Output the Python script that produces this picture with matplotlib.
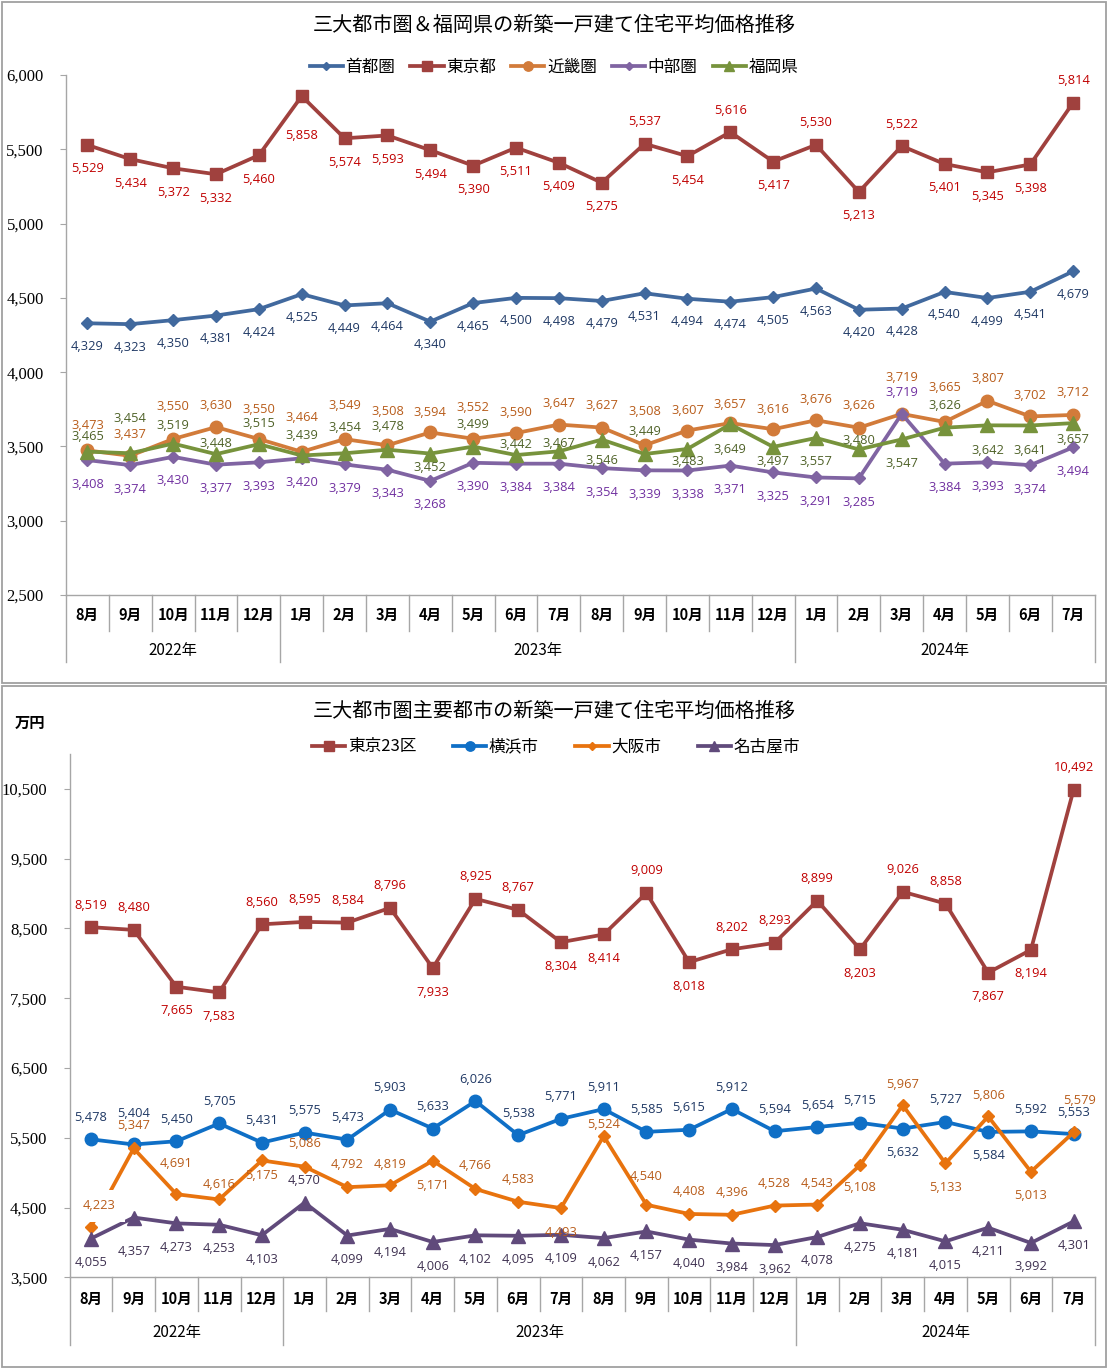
import matplotlib
matplotlib.use('Agg')
import matplotlib.pyplot as plt
from matplotlib.lines import Line2D
from matplotlib.patches import Rectangle
import matplotlib.transforms as mtransforms

# ---------------- data ----------------
months = ['8月', '9月', '10月', '11月', '12月',
          '1月', '2月', '3月', '4月', '5月', '6月', '7月', '8月', '9月', '10月', '11月', '12月',
          '1月', '2月', '3月', '4月', '5月', '6月', '7月']
years = ['2022年', '2023年', '2024年']
year_counts = [5, 12, 7]

top_title = '三大都市圏＆福岡県の新築一戸建て住宅平均価格推移'
top_names = ['首都圏', '東京都', '近畿圏', '中部圏', '福岡県']
shutoken = [4329, 4323, 4350, 4381, 4424, 4525, 4449, 4464, 4340, 4465, 4500, 4498,
            4479, 4531, 4494, 4474, 4505, 4563, 4420, 4428, 4540, 4499, 4541, 4679]
tokyo_to = [5529, 5434, 5372, 5332, 5460, 5858, 5574, 5593, 5494, 5390, 5511, 5409,
            5275, 5537, 5454, 5616, 5417, 5530, 5213, 5522, 5401, 5345, 5398, 5814]
kinki = [3473, 3437, 3550, 3630, 3550, 3464, 3549, 3508, 3594, 3552, 3590, 3647,
         3627, 3508, 3607, 3657, 3616, 3676, 3626, 3719, 3665, 3807, 3702, 3712]
chubu = [3408, 3374, 3430, 3377, 3393, 3420, 3379, 3343, 3268, 3390, 3384, 3384,
         3354, 3339, 3338, 3371, 3325, 3291, 3285, 3719, 3384, 3393, 3374, 3494]
fukuoka = [3465, 3454, 3519, 3448, 3515, 3439, 3454, 3478, 3452, 3499, 3442, 3467,
           3546, 3449, 3483, 3649, 3497, 3557, 3480, 3547, 3626, 3642, 3641, 3657]
top_yticks = [2500, 3000, 3500, 4000, 4500, 5000, 5500, 6000]

bot_title = '三大都市圏主要都市の新築一戸建て住宅平均価格推移'
bot_names = ['東京23区', '横浜市', '大阪市', '名古屋市']
tokyo23 = [8519, 8480, 7665, 7583, 8560, 8595, 8584, 8796, 7933, 8925, 8767, 8304,
           8414, 9009, 8018, 8202, 8293, 8899, 8203, 9026, 8858, 7867, 8194, 10492]
yokohama = [5478, 5404, 5450, 5705, 5431, 5575, 5473, 5903, 5633, 6026, 5538, 5771,
            5911, 5585, 5615, 5912, 5594, 5654, 5715, 5632, 5727, 5584, 5592, 5553]
osaka = [4223, 5347, 4691, 4616, 5175, 5086, 4792, 4819, 5171, 4766, 4583, 4493,
         5524, 4540, 4408, 4396, 4528, 4543, 5108, 5967, 5133, 5806, 5013, 5579]
nagoya = [4055, 4357, 4273, 4253, 4103, 4570, 4099, 4194, 4006, 4102, 4095, 4109,
          4062, 4157, 4040, 3984, 3962, 4078, 4275, 4181, 4015, 4211, 3992, 4301]
bot_yticks = [3500, 4500, 5500, 6500, 7500, 8500, 9500, 10500]
unit_label = '万円'

# ---------------- label placement (pixels, + = below point) ----------------
U, D = -22, 24
lab_shutoken = [23] * 24
lab_tokyo_to = [D, D, D, D, D, 39, D, D, D, D, D, D, D, U, D, U, D, U, D, U, D, D, D, U]
lab_kinki = [-25, -21, -32, -22, -29, -34, -34, -34, -20, -31, -21, -21,
             -22, -34, -20, -19, -20, -21, -22, -36, -34, -22, -21, -22]
lab_chubu = [D] * 19 + [-21] + [D] * 4
lab_fukuoka = [-15, -35, -18, -11, -21, -20, -26, -23, 14, -22, -11, -8,
               21, -23, 13, 25, 15, 24, -9, 24, -22, 25, 25, 16]

lab_tokyo23 = [U, U, D, D, U, U, U, U, D, U, U, D, D, U, D, U, U, U, D, U, U, D, D, U]
lab_yokohama = [U, -31] + [U] * 17 + [D, U, D, U, U]
lab_osaka = [-21, -23, -31, -15, 15, -23, -23, -21, 25, -23, -22, 24,
             -12, -28, -22, -22, -22, -21, 22, -21, 24, -21, 24, -32]
lab_osaka_dx = [8] + [0] * 22 + [6]
lab_nagoya = [D, 34, D, D, D, -22] + [D] * 18

# ---------------- styling ----------------
W, H = 1108, 1369
CJK = ['Noto Sans CJK JP', 'DejaVu Sans']
NUM = ['Open Sans', 'DejaVu Sans']
SERIF = ['Liberation Serif', 'DejaVu Serif']
GRAY = '#A6A6A6'

fig = plt.figure(figsize=(W / 100, H / 100), dpi=100)
fig.patch.set_facecolor('white')


def fx(x):
    return x / W


def fy(y):
    return 1 - y / H


def box(t, b):
    fig.add_artist(Rectangle((fx(2), fy(b)), fx(1104), (b - t) / H,
                             transform=fig.transFigure, fill=False,
                             ec='#A0A0A0', lw=1.3))


def make_axes(l, r, t, b):
    ax = fig.add_axes([fx(l), fy(b), (r - l) / W, (b - t) / H])
    for s in ['top', 'right']:
        ax.spines[s].set_visible(False)
    for s in ['left', 'bottom']:
        ax.spines[s].set_color(GRAY)
        ax.spines[s].set_linewidth(1.0)
    ax.set_xlim(-0.5, 23.5)
    ax.set_xticks([])
    ax.tick_params(axis='y', direction='out', length=4, color=GRAY,
                   pad=12, labelsize=12)
    return ax


def category_axis(ax, t, b, month_y, year_y, d_month, d_year):
    h = b - t
    trans = mtransforms.blended_transform_factory(ax.transData, ax.transAxes)
    bounds = [0]
    for c in year_counts:
        bounds.append(bounds[-1] + c)
    for i in range(len(months) + 1):
        d = d_year if i in bounds else d_month
        ax.add_line(Line2D([i - 0.5, i - 0.5], [0, -d / h], transform=trans,
                           color=GRAY, lw=1.0, clip_on=False))
    for i, m in enumerate(months):
        ax.text(i, -(month_y - b) / h, m, transform=trans, ha='center', va='center',
                family=CJK, fontsize=10.5, fontweight='bold')
    for k, yname in enumerate(years):
        center = (bounds[k] + bounds[k + 1] - 1) / 2
        ax.text(center, -(year_y - b) / h, yname, transform=trans, ha='center',
                va='center', family=CJK, fontsize=11)


def draw_series(ax, vals, color, marker, ms, tcolor, offs, dxs=None, boxed=()):
    x = list(range(len(vals)))
    ax.plot(x, vals, color=color, lw=2.7, marker=marker, ms=ms, mfc=color,
            mec=color, zorder=3, clip_on=False)
    for i, v in enumerate(vals):
        dx = dxs[i] if dxs else 0
        kw = {}
        if i in boxed:
            kw['bbox'] = dict(boxstyle='square,pad=0.75', fc='white', ec='none')
        ax.annotate(f'{v:,}', (i, v), xytext=(dx, -offs[i]),
                    textcoords='offset pixels', ha='center', va='center',
                    color=tcolor, fontsize=9.3, family=NUM, zorder=6, **kw)


# ================= top panel =================
box(2, 683)
fig.text(fx(554), fy(25), top_title, ha='center', va='center',
         family=CJK, fontsize=14.5)
T_L, T_R, T_T, T_B = 66, 1094.6, 75, 595
ax1 = make_axes(T_L, T_R, T_T, T_B)
ax1.set_ylim(2500, 6000)
ax1.set_yticks(top_yticks)
ax1.set_yticklabels([f'{v:,}' for v in top_yticks], family=SERIF)
category_axis(ax1, T_T, T_B, 615, 651, 36, 67)

top_specs = [
    (shutoken, '#41699E', 'D', 6.0, '#1F3864', lab_shutoken),
    (tokyo_to, '#A0413E', 's', 9.0, '#C00000', lab_tokyo_to),
    (kinki, '#D27B3A', 'o', 9.0, '#B85C1A', lab_kinki),
    (chubu, '#8064A2', 'D', 6.0, '#7030A0', lab_chubu),
    (fukuoka, '#77933C', '^', 9.5, '#4F6228', lab_fukuoka),
]
handles = []
for (vals, c, m, ms, tc, offs), name in zip(top_specs, top_names):
    draw_series(ax1, vals, c, m, ms, tc, offs)
    handles.append(Line2D([], [], color=c, lw=2.7, marker=m,
                          ms=ms * 0.75, label=name))
fig.legend(handles=handles, loc='center', bbox_to_anchor=(fx(554), fy(67)),
           ncol=5, frameon=False, prop=dict(family=CJK, size=12),
           handlelength=2.0, handletextpad=0.15, columnspacing=0.9,
           borderaxespad=0, borderpad=0)

# ================= bottom panel =================
box(686, 1367)
fig.text(fx(554), fy(711), bot_title, ha='center', va='center',
         family=CJK, fontsize=14.5)
fig.text(fx(30), fy(723), unit_label, ha='center', va='center',
         family=CJK, fontsize=11, fontweight='bold')
B_L, B_R, B_T, B_B = 69.6, 1095, 754.1, 1277.3
ax2 = make_axes(B_L, B_R, B_T, B_B)
ax2.set_ylim(3500, 11000)
ax2.set_yticks(bot_yticks)
ax2.set_yticklabels([f'{v:,}' for v in bot_yticks], family=SERIF)
category_axis(ax2, B_T, B_B, 1299, 1333, 34, 68)

bot_specs = [
    (tokyo23, '#A0413E', 's', 9.0, '#C00000', lab_tokyo23, None, ()),
    (yokohama, '#0F6FC6', 'o', 9.0, '#1F3864', lab_yokohama, None, ()),
    (osaka, '#E8730E', 'D', 6.0, '#B85C1A', lab_osaka, lab_osaka_dx, (0,)),
    (nagoya, '#604A7B', '^', 9.5, '#3F3151', lab_nagoya, None, ()),
]
handles2 = []
for (vals, c, m, ms, tc, offs, dxs, bx), name in zip(bot_specs, bot_names):
    draw_series(ax2, vals, c, m, ms, tc, offs, dxs, bx)
    handles2.append(Line2D([], [], color=c, lw=2.7, marker=m,
                           ms=ms * 0.75, label=name))
fig.legend(handles=handles2, loc='center', bbox_to_anchor=(fx(556), fy(747)),
           ncol=4, frameon=False, prop=dict(family=CJK, size=12),
           handlelength=2.0, handletextpad=0.15, columnspacing=2.2,
           borderaxespad=0, borderpad=0)

fig.savefig('out.png', dpi=100, facecolor='white')
